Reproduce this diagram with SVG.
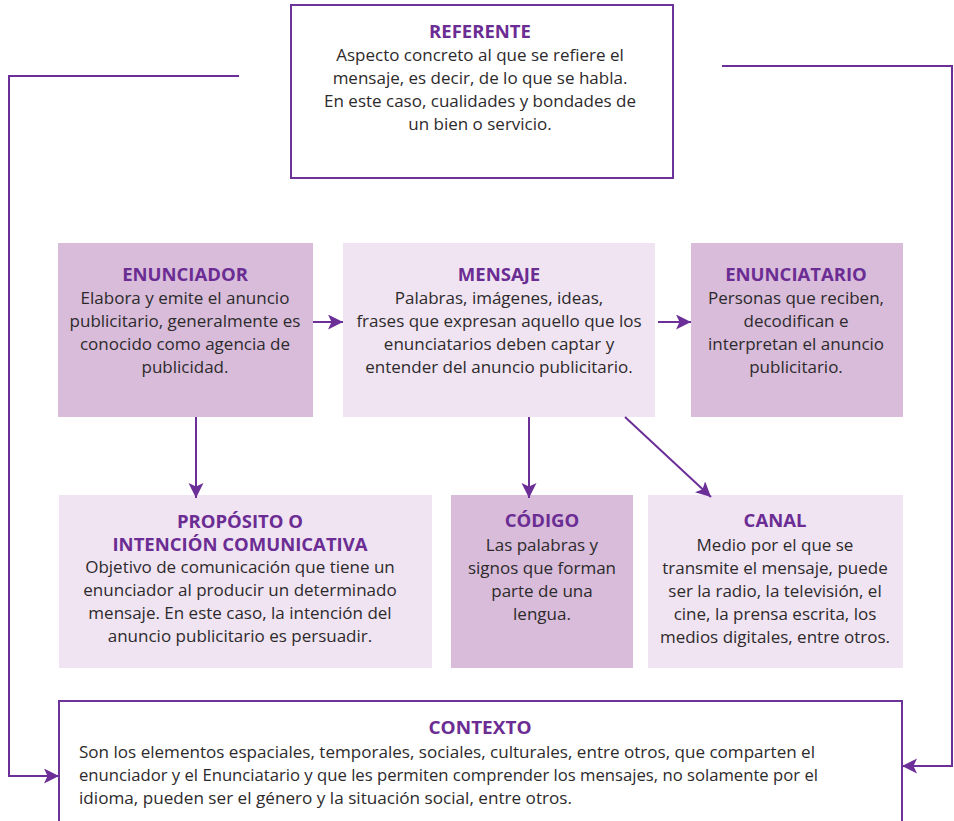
<svg xmlns="http://www.w3.org/2000/svg" width="954" height="821" viewBox="0 0 954 821">
<style>
.dark{fill:#d8bcda}
.light{fill:#f0e4f2}
.frame{fill:#ffffff;stroke:#6c3399;stroke-width:2}
.t{font-family:"Open Sans","Noto Sans",sans-serif;font-weight:bold;font-size:18.5px;fill:#6b2c93;text-anchor:middle}
.b{font-family:"Open Sans","Noto Sans",sans-serif;font-size:17px;fill:#2d2a2c;text-anchor:middle}
.bl{font-family:"Open Sans","Noto Sans",sans-serif;font-size:17px;fill:#2d2a2c}
.c{fill:none;stroke:#6c2f98;stroke-width:2}
</style>
<defs>
<marker id="ah" markerWidth="16" markerHeight="16" refX="15" refY="7.5" orient="auto" markerUnits="userSpaceOnUse">
<path d="M0,0 L15,7.5 L0,15 L3.5,7.5 Z" fill="#6c2f98"/>
</marker>
</defs>
<rect width="954" height="821" fill="#ffffff"/>

<g id="referente">
<rect class="frame" x="291" y="5" width="382" height="173"/>
<text class="t" x="480" y="38">REFERENTE</text>
<text class="b" x="480" y="61">Aspecto concreto al que se refiere el</text>
<text class="b" x="480" y="84">mensaje, es decir, de lo que se habla.</text>
<text class="b" x="480" y="107">En este caso, cualidades y bondades de</text>
<text class="b" x="480" y="130">un bien o servicio.</text>
</g>

<g id="enunciador">
<rect class="dark" x="58" y="243" width="255" height="174"/>
<text class="t" x="185" y="281">ENUNCIADOR</text>
<text class="b" x="185" y="304">Elabora y emite el anuncio</text>
<text class="b" x="185" y="327">publicitario, generalmente es</text>
<text class="b" x="185" y="350">conocido como agencia de</text>
<text class="b" x="185" y="373">publicidad.</text>
</g>

<g id="mensaje">
<rect class="light" x="343" y="243" width="312" height="174"/>
<text class="t" x="499" y="281">MENSAJE</text>
<text class="b" x="499" y="304">Palabras, imágenes, ideas,</text>
<text class="b" x="499" y="327">frases que expresan aquello que los</text>
<text class="b" x="499" y="350">enunciatarios deben captar y</text>
<text class="b" x="499" y="373">entender del anuncio publicitario.</text>
</g>

<g id="enunciatario">
<rect class="dark" x="691" y="243" width="212" height="174"/>
<text class="t" x="796" y="281">ENUNCIATARIO</text>
<text class="b" x="796" y="304">Personas que reciben,</text>
<text class="b" x="796" y="327">decodifican e</text>
<text class="b" x="796" y="350">interpretan el anuncio</text>
<text class="b" x="796" y="373">publicitario.</text>
</g>

<g id="proposito">
<rect class="light" x="59" y="495" width="373" height="173"/>
<text class="t" x="240" y="528">PROPÓSITO O</text>
<text class="t" x="240" y="551">INTENCIÓN COMUNICATIVA</text>
<text class="b" x="240" y="573">Objetivo de comunicación que tiene un</text>
<text class="b" x="240" y="596">enunciador al producir un determinado</text>
<text class="b" x="240" y="619">mensaje. En este caso, la intención del</text>
<text class="b" x="240" y="642">anuncio publicitario es persuadir.</text>
</g>

<g id="codigo">
<rect class="dark" x="451" y="495" width="182" height="173"/>
<text class="t" x="542" y="527">CÓDIGO</text>
<text class="b" x="542" y="551">Las palabras y</text>
<text class="b" x="542" y="574">signos que forman</text>
<text class="b" x="542" y="597">parte de una</text>
<text class="b" x="542" y="620">lengua.</text>
</g>

<g id="canal">
<rect class="light" x="648" y="495" width="255" height="173"/>
<text class="t" x="775" y="527">CANAL</text>
<text class="b" x="775" y="551">Medio por el que se</text>
<text class="b" x="775" y="574">transmite el mensaje, puede</text>
<text class="b" x="775" y="597">ser la radio, la televisión, el</text>
<text class="b" x="775" y="620">cine, la prensa escrita, los</text>
<text class="b" x="775" y="643">medios digitales, entre otros.</text>
</g>

<g id="contexto">
<rect class="frame" x="59" y="701" width="843" height="140"/>
<text class="t" x="480" y="734" textLength="103" lengthAdjust="spacingAndGlyphs">CONTEXTO</text>
<text class="bl" x="79" y="758" textLength="736" lengthAdjust="spacingAndGlyphs">Son los elementos espaciales, temporales, sociales, culturales, entre otros, que comparten el</text>
<text class="bl" x="79" y="781" textLength="739" lengthAdjust="spacingAndGlyphs">enunciador y el Enunciatario y que les permiten comprender los mensajes, no solamente por el</text>
<text class="bl" x="79" y="804" textLength="493" lengthAdjust="spacingAndGlyphs">idioma, pueden ser el género y la situación social, entre otros.</text>
</g>

<g id="connectors">
<path class="c" d="M313,322 H343" marker-end="url(#ah)"/>
<path class="c" d="M658,322 H691" marker-end="url(#ah)"/>
<path class="c" d="M196,417 V498" marker-end="url(#ah)"/>
<path class="c" d="M529,417 V498" marker-end="url(#ah)"/>
<path class="c" d="M625,417 L711,497" marker-end="url(#ah)"/>
<path class="c" d="M239,76 H9 V776 H59" marker-end="url(#ah)"/>
<path class="c" d="M722,66 H952 V766 H902" marker-end="url(#ah)"/>
</g>
</svg>
